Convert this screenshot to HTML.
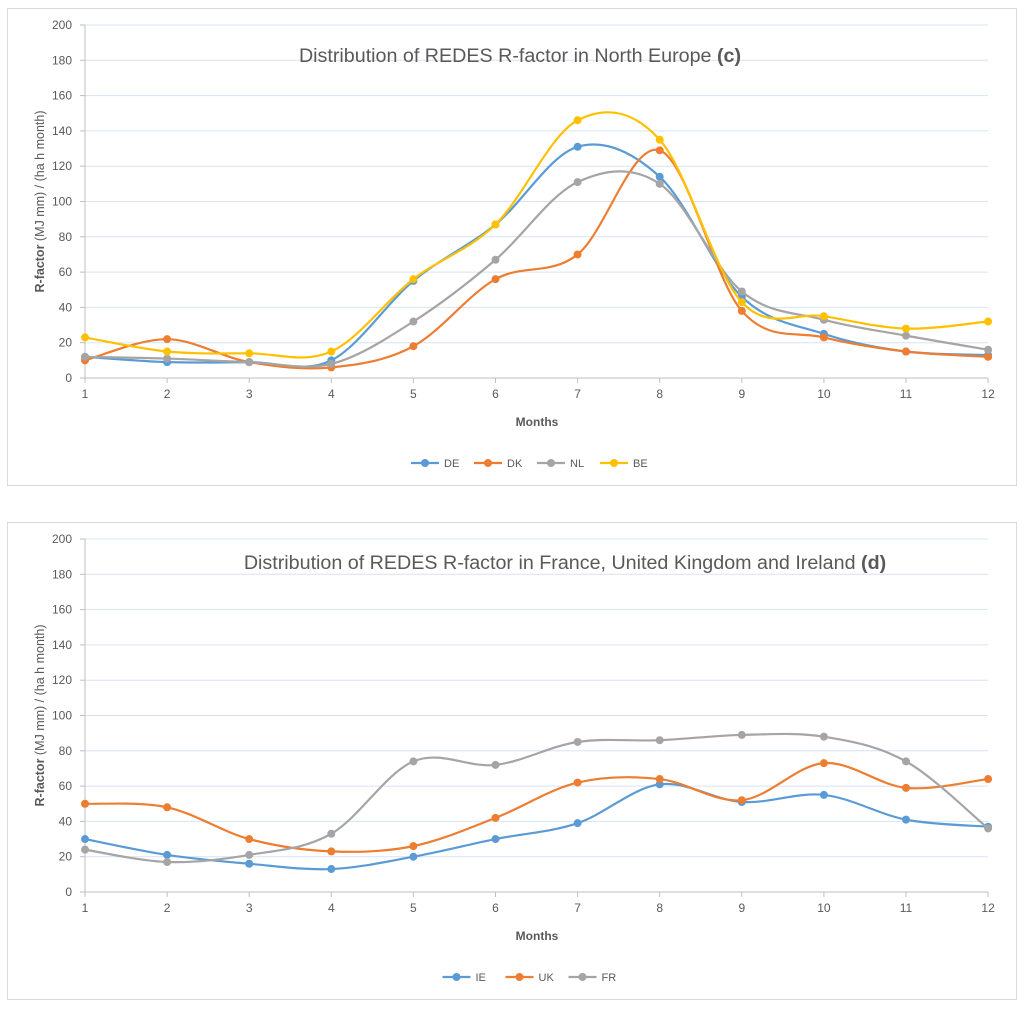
<!DOCTYPE html>
<html><head><meta charset="utf-8"><style>
body{margin:0;background:#fff;font-family:"Liberation Sans",sans-serif}
svg text{font-family:"Liberation Sans",sans-serif}
</style></head><body>
<svg id="svg" width="1024" height="1007" xmlns="http://www.w3.org/2000/svg"></svg>
<script>
const months=[1,2,3,4,5,6,7,8,9,10,11,12];
const yTicks=[0,20,40,60,80,100,120,140,160,180,200];
const seriesNamesC=["DE","DK","NL","BE"];
const deVals=[12,9,9,10,55,87,131,114,46,25,15,13];
const dkVals=[10,22,9,6,18,56,70,129,38,23,15,12];
const nlVals=[12,11,9,8,32,67,111,110,49,33,24,16];
const beVals=[23,15,14,15,56,87,146,135,43,35,28,32];
const seriesNamesD=["IE","UK","FR"];
const ieVals=[30,21,16,13,20,30,39,61,51,55,41,37];
const ukVals=[50,48,30,23,26,42,62,64,52,73,59,64];
const frVals=[24,17,21,33,74,72,85,86,89,88,74,36];
const colors=["#5B9BD5","#ED7D31","#A5A5A5","#FFC000"];
const NS="http://www.w3.org/2000/svg";
const svg=document.getElementById('svg');
function mk(tag,attrs,parent){const e=document.createElementNS(NS,tag);for(const k in attrs)e.setAttribute(k,attrs[k]);(parent||svg).appendChild(e);return e;}
function chart(top,name,titleMain,titleBold,titleX,titleY,names,data){
  const g=mk('g',{});
  
  
  const border=mk('rect',{x:7.5,y:top+0.5,width:1009,height:477,fill:'#fff',stroke:'#d9d9d9'},g);
  
  
  const x0=85,dx=82.1,yb=top+370,ph=353;
  const X=m=>x0+(m-1)*dx, Y=v=>yb-v/200*ph;
  yTicks.forEach(t=>{
    if(t>0){const l=mk('line',{x1:x0,x2:X(12),y1:Y(t),y2:Y(t),stroke:'#d6e4f5','stroke-width':1},g);
    
    }
    const tx=mk('text',{x:72,y:Y(t)+4,'text-anchor':'end','font-size':12,fill:'#595959'},g);tx.textContent=t;
    
    
    const tk=mk('line',{x1:x0-5,x2:x0,y1:Y(t),y2:Y(t),stroke:'#bfbfbf'},g);
    
    
  });
  const ax=mk('line',{x1:x0,x2:X(12),y1:yb,y2:yb,stroke:'#bfbfbf'},g);
  
  
  const ay=mk('line',{x1:x0,x2:x0,y1:Y(200),y2:yb,stroke:'#bfbfbf'},g);
  
  
  months.forEach(m=>{
    const tk=mk('line',{x1:X(m),x2:X(m),y1:yb,y2:yb+5,stroke:'#bfbfbf'},g);
    
    
    const t=mk('text',{x:X(m),y:yb+20,'text-anchor':'middle','font-size':12,fill:'#595959'},g);t.textContent=m;
    
    
  });
  const ti=mk('text',{x:titleX,y:top+titleY,'text-anchor':'middle','font-size':19.7,fill:'#595959'},g);
  ti.innerHTML=titleMain+' <tspan font-weight="bold">'+titleBold+'</tspan>';
  
  
  const xt=mk('text',{x:537,y:yb+48,'text-anchor':'middle','font-size':12,'font-weight':'bold',fill:'#595959'},g);xt.textContent='Months';
  
  
  const yt=mk('text',{transform:`translate(44,${Y(100)}) rotate(-90)`,'text-anchor':'middle','font-size':12.5,fill:'#595959'},g);
  yt.innerHTML='<tspan font-weight="bold">R-factor</tspan>  (MJ mm) / (ha h month)';
  
  
  data.forEach((vals,si)=>{
    const P=vals.map((v,i)=>[X(months[i]),Y(v)]);
    let d='M'+P[0].join(',');
    for(let i=0;i<P.length-1;i++){
      const p0=P[Math.max(0,i-1)],p1=P[i],p2=P[i+1],p3=P[Math.min(P.length-1,i+2)];
      const c1=[p1[0]+(p2[0]-p0[0])/6,p1[1]+(p2[1]-p0[1])/6];
      const c2=[p2[0]-(p3[0]-p1[0])/6,p2[1]-(p3[1]-p1[1])/6];
      d+=`C${c1.join(',')} ${c2.join(',')} ${p2.join(',')}`;
    }
    const path=mk('path',{d:d,fill:'none',stroke:colors[si],'stroke-width':2.2},g);
    
    
    P.forEach(p=>{const c=mk('circle',{cx:p[0],cy:p[1],r:4,fill:colors[si]},g);
      
      });
  });
  const lw=names.length*63, lx=537-lw/2;
  names.forEach((n,i)=>{
    const x=lx+i*63, y=yb+85;
    const l=mk('line',{x1:x,x2:x+28,y1:y,y2:y,stroke:colors[i],'stroke-width':2.2},g);
    
    
    const c=mk('circle',{cx:x+14,cy:y,r:4,fill:colors[i]},g);
    
    
    const t=mk('text',{x:x+33,y:y+4,'font-size':11,fill:'#595959'},g);t.textContent=n;
    
    
  });
}
chart(8,'chart-north-europe','Distribution of REDES R-factor in North Europe','(c)',520,54,seriesNamesC,[deVals,dkVals,nlVals,beVals]);
chart(522,'chart-france-uk-ireland','Distribution of REDES R-factor in France, United Kingdom and Ireland','(d)',565,47,seriesNamesD,[ieVals,ukVals,frVals]);
</script>
</body></html>
